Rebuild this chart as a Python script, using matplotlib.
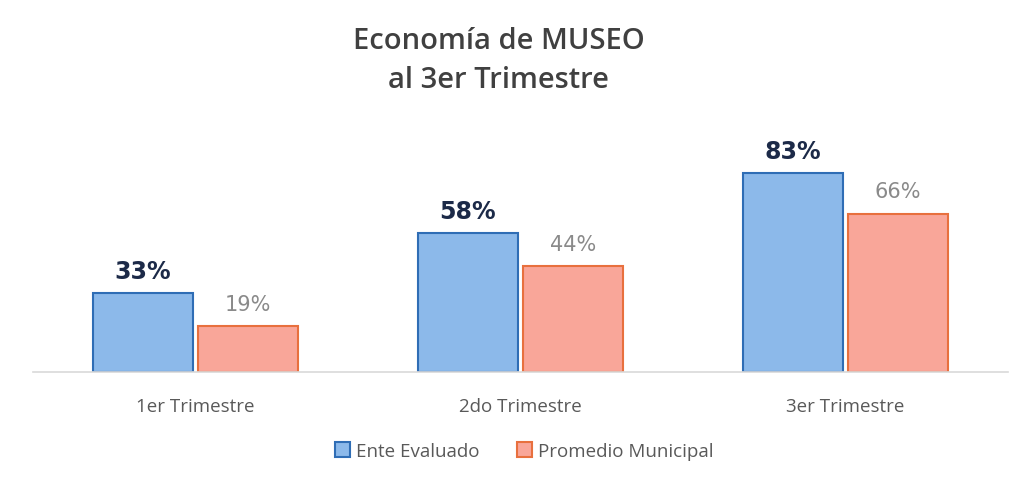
import matplotlib
matplotlib.use("Agg")
import matplotlib.pyplot as plt
import numpy as np
from matplotlib.patches import Patch

categories = ["1er Trimestre", "2do Trimestre", "3er Trimestre"]
ente = [33, 58, 83]
promedio = [19, 44, 66]
series_names = ["Ente Evaluado", "Promedio Municipal"]
title = "Economía de MUSEO\nal 3er Trimestre"

blue_fill, blue_edge = "#8cb9ea", "#2f6db5"
org_fill, org_edge = "#f9a699", "#e8703e"

fig = plt.figure(figsize=(10.18, 4.85), dpi=100)
ax = fig.add_axes([0.0324, 0.231, 0.9578, 0.4948])

x = np.arange(len(categories))
w = 0.308
off = 0.162
b1 = ax.bar(x - off, ente, w, color=blue_fill, edgecolor=blue_edge, linewidth=1.5)
b2 = ax.bar(x + off, promedio, w, color=org_fill, edgecolor=org_edge, linewidth=1.5)

for rect, v in zip(b1, ente):
    ax.annotate(f"{v}%", (rect.get_x() + rect.get_width() / 2, v), xytext=(0, 7),
                textcoords="offset points", ha="center", va="bottom",
                fontsize=17, fontweight="bold", color="#1c2a48", family="DejaVu Sans")
for rect, v in zip(b2, promedio):
    ax.annotate(f"{v}%", (rect.get_x() + rect.get_width() / 2, v), xytext=(0, 9),
                textcoords="offset points", ha="center", va="bottom",
                fontsize=15, color="#8a8a8a", family="DejaVu Sans")

ax.set_xlim(-0.5, 2.5)
ax.set_ylim(0, 100)
ax.set_yticks([])
for s in ["top", "left", "right"]:
    ax.spines[s].set_visible(False)
ax.spines["bottom"].set_color("#d9d9d9")
ax.spines["bottom"].set_linewidth(1.2)
ax.set_xticks(x)
ax.set_xticklabels(categories, fontsize=13.5, color="#595959", family="Open Sans")
ax.tick_params(axis="x", length=0, pad=18)

fig.text(0.49, 0.875, title, ha="center", va="center", fontsize=21,
         fontweight="semibold", color="#404040", family="Open Sans", linespacing=1.45)

handles = [Patch(facecolor=blue_fill, edgecolor=blue_edge, linewidth=1.5),
           Patch(facecolor=org_fill, edgecolor=org_edge, linewidth=1.5)]
fig.legend(handles, series_names, loc="center", bbox_to_anchor=(0.515, 0.068),
           ncol=2, frameon=False, handlelength=0.8, handleheight=0.8,
           handletextpad=0.3, columnspacing=2.0,
           prop={"family": "Open Sans", "size": 13.5}, labelcolor="#595959")

fig.savefig("out.png", dpi=100, facecolor="white")
